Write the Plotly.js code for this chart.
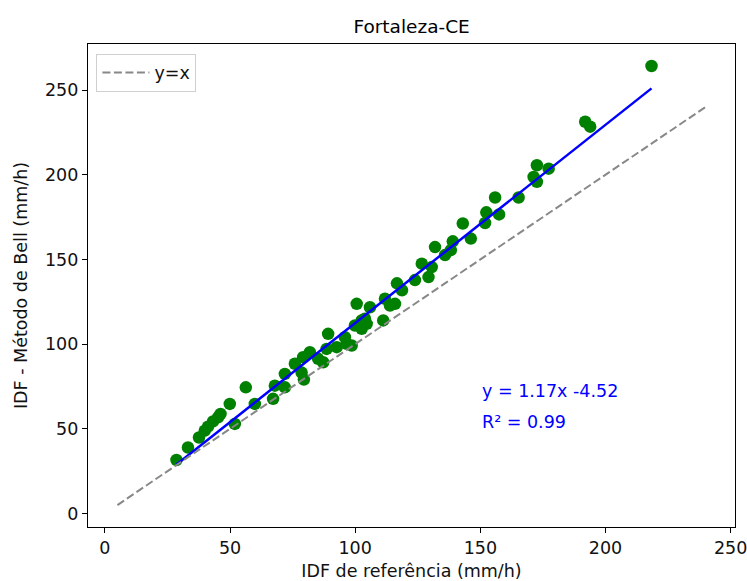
<!DOCTYPE html>
<html>
<head>
<meta charset="utf-8">
<script src="https://cdn.plot.ly/plotly-3.0.1.min.js"></script>
<style>html,body{margin:0;padding:0;background:#fff;}#chart{width:747px;height:581px;}</style>
</head>
<body>
<div id="chart"></div>
<script>
// IDF de referência (mm/h)
const idfRef = [28.6, 33.2, 37.6, 39.9, 41.2, 43.2, 45.2, 46.2, 49.9, 51.9, 56.3, 59.9, 67.2, 67.9, 71.9, 71.9,
  75.9, 78.6, 79.2, 79.5, 81.9, 85.2, 87.2, 89.2, 88.6, 92.6, 95.9, 96.6, 98.6, 100.6, 99.9, 102.6, 102.6,
  104.6, 103.9, 105.9, 111.2, 111.9, 113.9, 115.9, 116.7, 118.7, 123.9, 126.6, 129.3, 130.6, 131.9, 135.9,
  138.2, 139.0, 143.0, 146.2, 152.4, 151.9, 157.5, 155.9, 165.3, 171.3, 172.6, 172.6, 177.3, 191.9, 193.9, 218.4];
// IDF - Método de Bell (mm/h)
const idfBell = [31.6, 39.0, 44.9, 48.9, 51.3, 54.4, 56.8, 58.8, 64.7, 52.9, 74.5, 64.7, 67.7, 75.5, 74.5, 82.4,
  88.4, 83.2, 92.3, 79.1, 95.2, 91.3, 89.3, 106.1, 97.2, 98.2, 104.1, 100.2, 99.2, 123.8, 111.0, 114.0, 109.1,
  112.0, 115.0, 121.8, 114.0, 126.8, 122.8, 123.8, 135.9, 131.8, 137.8, 147.5, 139.6, 145.5, 157.3, 152.6,
  155.5, 160.7, 171.2, 162.3, 177.8, 171.5, 176.6, 186.6, 186.6, 198.7, 205.6, 195.8, 203.6, 231.3, 228.4, 264.2];
// Regression coefficients and identity line extent
const slope = 1.17;
const intercept = -4.52;
const identityX = [5, 240];
const tickValues = [0, 50, 100, 150, 200, 250];
const fitLabel = "y = 1.17x -4.52";
const r2Label = "R² = 0.99";

const xMin = Math.min(...idfRef), xMax = Math.max(...idfRef);
const fitX = [xMin, xMax];
const fitY = fitX.map(v => slope * v + intercept);

const font = "DejaVu Sans, sans-serif";
const fs = 17.5;

const traces = [
  {x: idfRef, y: idfBell, type: 'scatter', mode: 'markers', showlegend: false,
   marker: {color: '#008000', size: 12.5}},
  {x: fitX, y: fitY, type: 'scatter', mode: 'lines', showlegend: false,
   line: {color: '#0000ff', width: 2.5}},
  {x: identityX, y: identityX, type: 'scatter', mode: 'lines', name: 'y=x',
   line: {color: '#888888', width: 2, dash: '8px,3.5px'}}
];

const axisCommon = {
  showline: true, mirror: true, linecolor: '#000', linewidth: 1.2,
  ticks: 'outside', ticklen: 5, tickcolor: '#000', showgrid: false, zeroline: false,
  ticklabeloverflow: 'allow',
  tickfont: {family: font, size: fs, color: '#111'}
};

const layout = {
  width: 747, height: 581,
  margin: {l: 88, r: 12, t: 44, b: 54},
  paper_bgcolor: '#fff', plot_bgcolor: '#fff',
  font: {family: font},
  title: {text: 'Fortaleza-CE', font: {family: font, size: 18.5, color: '#000'}, x: 0.551, xanchor: 'center', y: 0.955, yanchor: 'middle'},
  xaxis: Object.assign({}, axisCommon, {range: [-6.75, 251.75], tickvals: tickValues,
    title: {text: 'IDF de referência (mm/h)', font: {family: font, size: fs, color: '#111'}, standoff: 8}}),
  yaxis: Object.assign({}, axisCommon, {range: [-7.96, 277.2], tickvals: tickValues,
    title: {text: 'IDF - Método de Bell (mm/h)', font: {family: font, size: fs, color: '#111'}, standoff: 12}}),
  legend: {x: 0.013, y: 0.98, xanchor: 'left', yanchor: 'top', bgcolor: 'rgba(255,255,255,0.8)',
    bordercolor: '#d0d0d0', borderwidth: 1, itemwidth: 47, font: {family: font, size: fs, color: '#111'}},
  annotations: [
    {x: 150, y: 72.6, xref: 'x', yref: 'y', text: fitLabel, showarrow: false, xanchor: 'left', yanchor: 'middle',
     font: {family: font, size: fs, color: '#0000ff'}},
    {x: 150, y: 53.8, xref: 'x', yref: 'y', text: r2Label, showarrow: false, xanchor: 'left', yanchor: 'middle',
     font: {family: font, size: fs, color: '#0000ff'}}
  ]
};

Plotly.newPlot('chart', traces, layout, {displayModeBar: false, staticPlot: true});
</script>
</body>
</html>
